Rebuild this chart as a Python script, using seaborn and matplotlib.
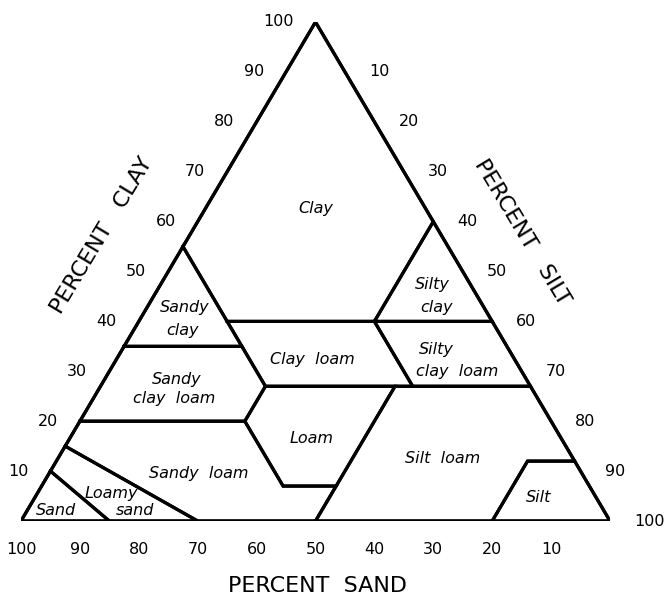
import numpy as np
import matplotlib
matplotlib.use("Agg")
import matplotlib.pyplot as plt
import matplotlib.transforms as mtransforms
import seaborn as sns

sns.set_theme(style="white")
plt.rcParams['font.family'] = ['DejaVu Sans']
plt.rcParams['text.color'] = 'black'

# USDA soil texture classes, vertices as (sand, silt, clay) percent
texture_classes = {
    'Clay': [(45, 0, 55), (45, 15, 40), (20, 40, 40), (0, 40, 60), (0, 0, 100)],
    'Sandy clay': [(65, 0, 35), (45, 20, 35), (45, 15, 40), (45, 0, 55)],
    'Silty clay': [(20, 40, 40), (0, 60, 40), (0, 40, 60)],
    'Clay loam': [(45, 15, 40), (45, 28, 27), (20, 53, 27), (20, 40, 40)],
    'Silty clay loam': [(20, 40, 40), (20, 53, 27), (0, 73, 27), (0, 60, 40)],
    'Sandy clay loam': [(80, 0, 20), (52, 28, 20), (45, 28, 27), (45, 20, 35), (65, 0, 35)],
    'Loam': [(52, 28, 20), (52, 41, 7), (43, 50, 7), (23, 50, 27), (45, 28, 27)],
    'Silt loam': [(50, 50, 0), (20, 80, 0), (8, 80, 12), (0, 88, 12), (0, 73, 27),
                  (23, 50, 27), (43, 50, 7)],
    'Silt': [(20, 80, 0), (0, 100, 0), (0, 88, 12), (8, 80, 12)],
    'Sandy loam': [(85, 0, 15), (80, 0, 20), (52, 28, 20), (52, 41, 7), (43, 50, 7),
                   (50, 50, 0), (70, 30, 0)],
    'Loamy sand': [(90, 0, 10), (85, 0, 15), (70, 30, 0), (85, 15, 0)],
    'Sand': [(100, 0, 0), (90, 0, 10), (85, 15, 0)],
}

tick_values = [10, 20, 30, 40, 50, 60, 70, 80, 90, 100]

# label lines and their centres in triangle x/y units
label_text = ['Clay', 'Sandy', 'clay', 'Silty', 'clay', 'Sandy', 'clay  loam',
              'Clay  loam', 'Silty', 'clay  loam', 'Loam', 'Sandy  loam',
              'Silt  loam', 'Silt', 'Sand', 'Loamy', 'sand']
label_x = [50.1, 27.8, 27.5, 69.9, 70.6, 26.5, 26.0, 49.4, 70.6, 74.0, 49.4,
           30.1, 71.6, 87.9, 5.9, 15.4, 19.4]
label_y = [54.3, 37.0, 33.1, 41.0, 37.1, 24.6, 21.2, 28.1, 29.7, 25.9, 14.4,
           8.2, 10.8, 4.0, 1.9, 4.7, 1.9]

H = np.sqrt(3) / 2


def to_xy(sand, silt, clay):
    return silt + clay / 2, clay * H


fig = plt.figure(figsize=(6.67, 5.97), dpi=100)
ax = fig.add_axes([21 / 667, 76 / 597, 589 / 667, 499 / 597])
ax.set_xlim(0, 100)
ax.set_ylim(0, 100 * H)
ax.set_axis_off()

line_kw = dict(color='black', lw=2.3, solid_joinstyle='miter', solid_capstyle='projecting')

# outer triangle
tri = [(100, 0, 0), (0, 100, 0), (0, 0, 100), (100, 0, 0)]
tx, ty = zip(*[to_xy(*p) for p in tri])
sns.lineplot(x=tx, y=ty, sort=False, ax=ax, estimator=None, **line_kw)

# class boundaries
for name, verts in texture_classes.items():
    pts = verts + [verts[0]]
    xs, ys = zip(*[to_xy(*p) for p in pts])
    ax.plot(xs, ys, **line_kw)

for text, x, y in zip(label_text, label_x, label_y):
    ax.text(x, y, text, ha='center', va='center', fontsize=11.5, style='italic')

# tick labels on the three sides
left_off = mtransforms.offset_copy(ax.transData, fig=fig, x=-22, y=0, units='dots')
right_off = mtransforms.offset_copy(ax.transData, fig=fig, x=24, y=0, units='dots')
bottom_off = mtransforms.offset_copy(ax.transData, fig=fig, x=0, y=-29, units='dots')
for v in tick_values:
    x, y = to_xy(100 - v, 0, v)
    ax.text(x, y, str(v), transform=left_off, ha='right', va='center', fontsize=11.5, clip_on=False)
    x, y = to_xy(0, v, 100 - v)
    ax.text(x, y, str(v), transform=right_off, ha='left', va='center', fontsize=11.5, clip_on=False)
    x, y = to_xy(v, 100 - v, 0)
    ax.text(x, y, str(v), transform=bottom_off, ha='center', va='center', fontsize=11.5, clip_on=False)

fig.text(102 / 667, 1 - 235 / 597, 'PERCENT   CLAY', rotation=59, ha='center', va='center', fontsize=16)
fig.text(522 / 667, 1 - 232 / 597, 'PERCENT   SILT', rotation=-59, ha='center', va='center', fontsize=16)
fig.text(318 / 667, 1 - 586 / 597, 'PERCENT  SAND', ha='center', va='center', fontsize=16)

fig.savefig('out.png', dpi=100, facecolor='white')
